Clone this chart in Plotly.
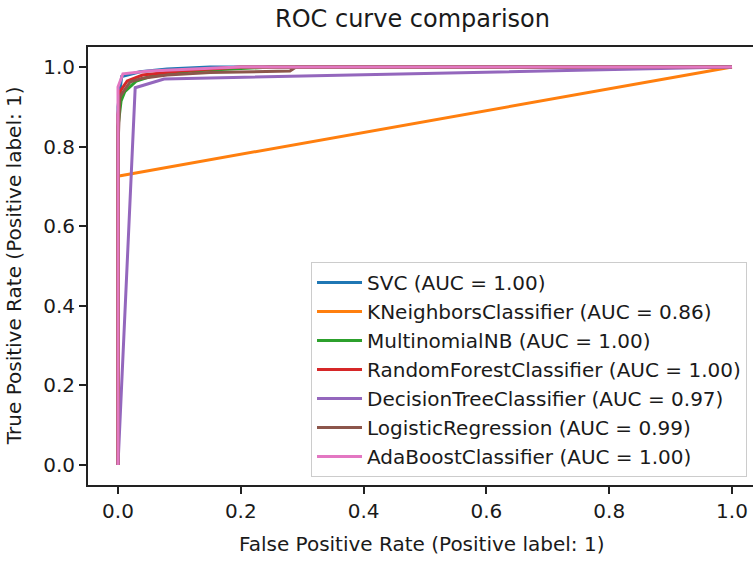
import plotly.graph_objects as go

# ---- data ----
model_names = ["SVC", "KNeighborsClassifier", "MultinomialNB", "RandomForestClassifier",
               "DecisionTreeClassifier", "LogisticRegression", "AdaBoostClassifier"]
auc_values = [1.00, 0.86, 1.00, 1.00, 0.97, 0.99, 1.00]
colors = ["#1f77b4", "#ff7f0e", "#2ca02c", "#d62728", "#9467bd", "#8c564b", "#e377c2"]

svc_fpr = [0, 0, 0.006, 0.036, 0.08, 0.15, 1.0]
svc_tpr = [0, 0.90, 0.976, 0.988, 0.995, 1.0, 1.0]

knn_fpr = [0, 0, 0.004, 1.0]
knn_tpr = [0, 0.725, 0.727, 1.0]

mnb_fpr = [0, 0, 0.005, 0.011, 0.03, 0.06, 0.12, 0.25, 1.0]
mnb_tpr = [0, 0.85, 0.915, 0.938, 0.965, 0.98, 0.99, 1.0, 1.0]

rf_fpr = [0, 0, 0.004, 0.015, 0.04, 0.1, 0.2, 1.0]
rf_tpr = [0, 0.88, 0.94, 0.965, 0.98, 0.99, 1.0, 1.0]

dt_fpr = [0, 0.028, 0.075, 1.0]
dt_tpr = [0, 0.948, 0.970, 1.0]

lr_fpr = [0, 0, 0.003, 0.02, 0.04, 0.08, 0.15, 0.28, 0.29, 1.0]
lr_tpr = [0, 0.80, 0.925, 0.963, 0.972, 0.98, 0.986, 0.99, 1.0, 1.0]

ada_fpr = [0, 0, 0.008, 0.05, 0.15, 0.2, 1.0]
ada_tpr = [0, 0.95, 0.983, 0.99, 0.997, 1.0, 1.0]

fprs = [svc_fpr, knn_fpr, mnb_fpr, rf_fpr, dt_fpr, lr_fpr, ada_fpr]
tprs = [svc_tpr, knn_tpr, mnb_tpr, rf_tpr, dt_tpr, lr_tpr, ada_tpr]

x_ticks = [0.0, 0.2, 0.4, 0.6, 0.8, 1.0]
y_ticks = [0.0, 0.2, 0.4, 0.6, 0.8, 1.0]

FONT = "DejaVu Sans"
TXT = "#1a1a1a"

fig = go.Figure()
for name, auc, c, fx, ty in zip(model_names, auc_values, colors, fprs, tprs):
    fig.add_trace(go.Scatter(
        x=fx, y=ty, mode="lines",
        name=f"{name} (AUC = {auc:.2f})",
        line=dict(color=c, width=3),
    ))

fig.update_layout(
    width=753, height=561,
    margin=dict(l=88, r=0, t=47, b=76),
    paper_bgcolor="white", plot_bgcolor="white",
    font=dict(family=FONT, size=20, color=TXT),
    showlegend=True,
    legend=dict(
        x=0.991, y=0.018, xanchor="right", yanchor="bottom",
        bgcolor="rgba(255,255,255,0.8)", bordercolor="#cccccc", borderwidth=1,
        font=dict(family=FONT, size=20, color=TXT),
        tracegroupgap=0, itemwidth=45,
    ),
)

fig.update_xaxes(
    range=[-0.04886, 1.0342], tickvals=x_ticks, tickformat=".1f",
    ticks="outside", ticklen=7, tickwidth=1.6, tickcolor="#222",
    showline=True, linecolor="#222", linewidth=2, mirror=True,
    showgrid=False, zeroline=False,
    tickfont=dict(family=FONT, size=20, color=TXT),
)
fig.update_yaxes(
    range=[-0.0503, 1.0503], tickvals=y_ticks, tickformat=".1f",
    ticks="outside", ticklen=7, tickwidth=1.6, tickcolor="#222",
    showline=True, linecolor="#222", linewidth=2, mirror=False,
    showgrid=False, zeroline=False,
    tickfont=dict(family=FONT, size=20, color=TXT),
)

fig.add_annotation(text="ROC curve comparison", xref="paper", yref="paper",
                   x=0.488, y=1.064, xanchor="center", yanchor="middle",
                   showarrow=False, font=dict(family=FONT, size=24, color=TXT))
fig.add_annotation(text="False Positive Rate (Positive label: 1)", xref="paper", yref="paper",
                   x=0.503, y=-0.135, xanchor="center", yanchor="middle",
                   showarrow=False, font=dict(family=FONT, size=20, color=TXT))
fig.add_annotation(text="True Positive Rate (Positive label: 1)", xref="paper", yref="paper",
                   x=-0.111, y=0.5, xanchor="center", yanchor="middle", textangle=-90,
                   showarrow=False, font=dict(family=FONT, size=20, color=TXT))

fig.write_html("out.html")
